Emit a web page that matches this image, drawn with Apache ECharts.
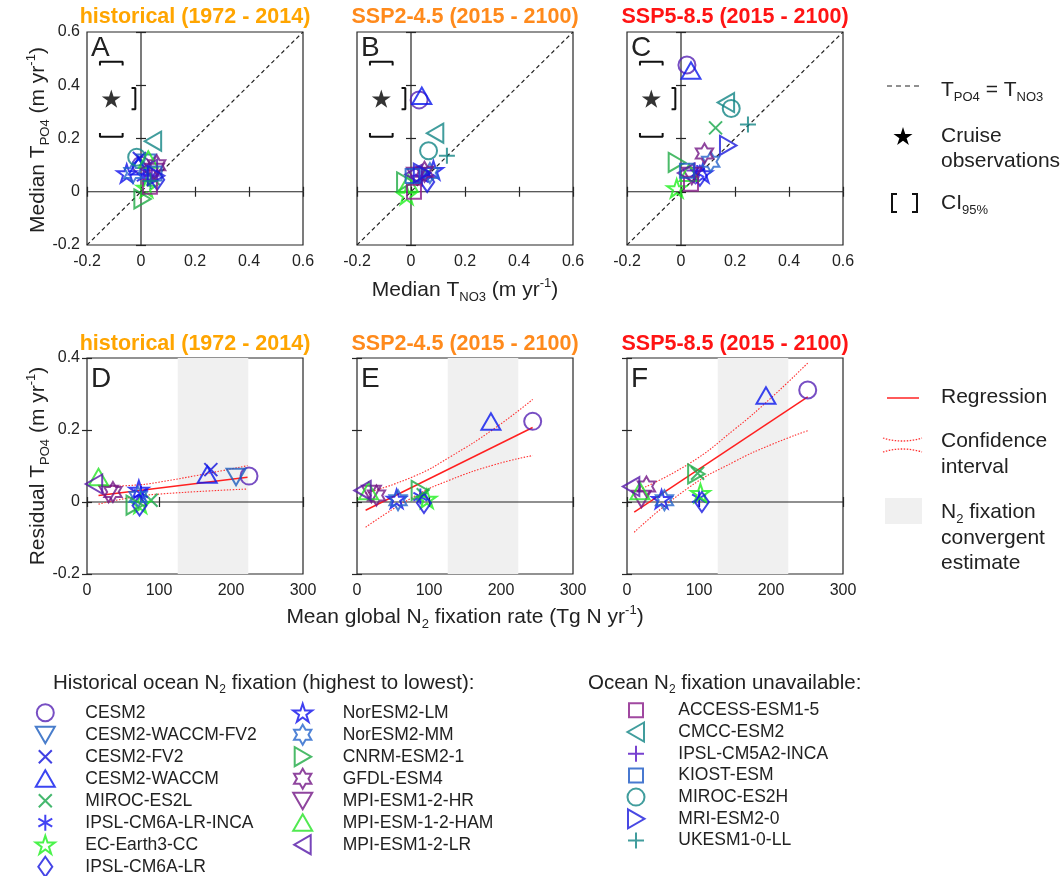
<!DOCTYPE html>
<html><head><meta charset="utf-8">
<script src="https://cdn.jsdelivr.net/npm/echarts@6/dist/echarts.min.js"></script>
<style>html,body{margin:0;padding:0;background:#fff}#c{width:1064px;height:876px}</style>
</head><body><div id="c"></div>
<script>
// ---------------- DATA ----------------
const models = ['CESM2','CESM2-WACCM-FV2','CESM2-FV2','CESM2-WACCM','MIROC-ES2L','IPSL-CM6A-LR-INCA','EC-Earth3-CC','IPSL-CM6A-LR','NorESM2-LM','NorESM2-MM','CNRM-ESM2-1','GFDL-ESM4','MPI-ESM1-2-HR','MPI-ESM-1-2-HAM','MPI-ESM1-2-LR','ACCESS-ESM1-5','CMCC-ESM2','IPSL-CM5A2-INCA','KIOST-ESM','MIROC-ES2H','MRI-ESM2-0','UKESM1-0-LL'];
const histModels = models.slice(0, 15);
const naModels = models.slice(15);

const panelTitles = ['historical (1972 - 2014)', 'SSP2-4.5 (2015 - 2100)', 'SSP5-8.5 (2015 - 2100)'];
const topTicks = [-0.2, 0, 0.2, 0.4, 0.6];
const resTicks = [-0.2, 0, 0.2, 0.4];
const fixTicks = [0, 100, 200, 300];

// Panel A: historical, median T_NO3 (x) vs median T_PO4 (y)
const aX = [0.000, 0.020, -0.006, -0.010, 0.045, 0.010, 0.020, 0.060, -0.053, -0.030, 0.005, 0.058, 0.050, 0.027, 0.030, 0.033, 0.045, 0.040, 0.050, -0.016, 0.055, 0.035];
const aY = [0.100, 0.110, 0.125, 0.095, 0.050, 0.055, 0.015, 0.045, 0.069, 0.070, -0.027, 0.100, 0.075, 0.120, 0.085, 0.019, 0.190, 0.060, 0.069, 0.130, 0.060, 0.040];
// Panel B: SSP2-4.5
const bX = [0.030, null, null, 0.040, 0.060, 0.040, -0.016, 0.060, 0.083, 0.070, -0.022, 0.050, 0.020, -0.010, 0.010, 0.011, 0.090, 0.030, 0.006, 0.065, 0.040, 0.133];
const bY = [0.345, null, null, 0.360, 0.070, 0.050, -0.012, 0.037, 0.081, 0.070, 0.037, 0.075, 0.060, 0.030, 0.065, 0.000, 0.220, 0.060, 0.059, 0.154, 0.070, 0.135];
// Panel C: SSP5-8.5
const cX = [0.022, null, null, 0.037, 0.128, 0.060, -0.016, 0.070, 0.080, 0.110, -0.016, 0.087, 0.040, 0.030, 0.020, 0.037, 0.167, 0.050, 0.022, 0.186, 0.174, 0.248];
const cY = [0.476, null, null, 0.454, 0.240, 0.070, 0.013, 0.060, 0.069, 0.113, 0.110, 0.144, 0.060, 0.070, 0.070, 0.030, 0.335, 0.080, 0.079, 0.313, 0.174, 0.253];

// Panels D-F: mean global N2 fixation (x) vs residual T_PO4 (y), models with N2 fixation
const dX = [225, 207, 172, 167, 89, 75, 74, 73, 72, 71, 66, 36, 30, 16, 10];
const dY = [0.072, 0.070, 0.090, 0.076, 0.005, 0.023, -0.005, -0.010, 0.034, 0.014, -0.009, 0.028, 0.023, 0.069, 0.050];
const eX = [244, null, null, 186, 92, 88, 97, 93, 55, 57, 87, 27, 20, 16, 8];
const eY = [0.224, null, null, 0.223, 0.020, 0.015, 0.009, -0.003, 0.009, 0.005, 0.032, 0.018, 0.023, 0.030, 0.032];
const fX = [251, null, null, 193, 98, 100, 102, 104, 48, 52, 96, 27, 20, 18, 6];
const fY = [0.311, null, null, 0.295, 0.080, 0.010, 0.025, 0.000, 0.008, 0.005, 0.078, 0.043, 0.009, 0.030, 0.043];

// Regression lines and confidence intervals
const regD = [[16, 0.018], [223, 0.069]];
const ciUpD = [[16, 0.043], [60, 0.046], [100, 0.055], [223, 0.101]];
const ciLoD = [[16, -0.006], [60, 0.012], [100, 0.022], [223, 0.036]];
const regE = [[12, -0.023], [244, 0.207]];
const ciUpE = [[12, 0.024], [80, 0.072], [129, 0.125], [190, 0.203], [244, 0.285]];
const ciLoE = [[12, -0.070], [80, 0.016], [129, 0.061], [190, 0.103], [244, 0.129]];
const regF = [[10, -0.028], [251, 0.292]];
const ciUpF = [[10, 0.028], [85, 0.105], [150, 0.203], [200, 0.289], [251, 0.386]];
const ciLoF = [[10, -0.084], [85, 0.039], [150, 0.113], [200, 0.159], [251, 0.198]];

// Cruise observations and 95% CI
const cruise = [-0.11, 0.35];
const cruiseCIx = [-0.28, -0.021];
const cruiseCIy = [0.207, 0.488];
// N2 fixation convergent estimate (Tg N / yr)
const convergent = [126, 224];

// ---------------- STYLE ----------------
const FONT = 'Liberation Sans, Arial, Helvetica, sans-serif';
const TXT = '#222222';
const STAR5_PTS = [[10,0],[12.245,6.91],[19.51,6.91],[13.63,11.18],[15.88,18.09],[10,13.82],[4.12,18.09],[6.37,11.18],[0.49,6.91],[7.755,6.91]];
const star5Path = 'M' + STAR5_PTS.map(p => p[0] + ',' + (p[1] + 1)).join('L') + 'Z';
const BOX = 'path://M0,0M20,20';
const sym = {
  circle: BOX + 'M18.5,10A8.5,8.5,0,1,1,1.5,10A8.5,8.5,0,1,1,18.5,10Z',
  tup: BOX + 'M10,1.5L19.5,18L0.5,18Z',
  tdown: BOX + 'M0.5,2L19.5,2L10,18.5Z',
  tright: BOX + 'M2,0.5L18.5,10L2,19.5Z',
  tleft: BOX + 'M18,0.5L1.5,10L18,19.5Z',
  x: BOX + 'M3.5,3.5L16.5,16.5M16.5,3.5L3.5,16.5',
  plus: BOX + 'M10,2L10,18M2,10L18,10',
  ast: BOX + 'M10,2L10,18M3.07,6L16.93,14M3.07,14L16.93,6',
  star5: BOX + star5Path,
  star6: BOX + 'M10,0L12.887,5L18.66,5L15.77,10L18.66,15L12.887,15L10,20L7.113,15L1.34,15L4.23,10L1.34,5L7.113,5Z',
  diam: BOX + 'M10,0L17,10L10,20L3,10Z',
  square: BOX + 'M3,3L17,3L17,17L3,17Z'
};
const modelStyle = [
  ['#5522B4', 'circle'], ['#1C5CBE', 'tdown'], ['#1212DC', 'x'], ['#0A16EE', 'tup'],
  ['#17A64A', 'x'], ['#1414F0', 'ast'], ['#1EF01E', 'star5'], ['#1616E0', 'diam'],
  ['#1010EC', 'star5'], ['#2464CC', 'star6'], ['#1EAA44', 'tright'], ['#731686', 'star6'],
  ['#731686', 'tdown'], ['#26E426', 'tup'], ['#5516A8', 'tleft'],
  ['#881A88', 'square'], ['#128484', 'tleft'], ['#5512C4', 'plus'], ['#1A58C4', 'square'],
  ['#128484', 'circle'], ['#1A1ADC', 'tright'], ['#128484', 'plus']
];

const topGrids = [87, 357, 627].map(l => ({left: l, top: 32, width: 216, height: 213}));
const botGrids = [87, 357, 627].map(l => ({left: l, top: 358, width: 216, height: 216}));
const grids = topGrids.concat(botGrids).map(g => Object.assign({show: true, borderColor: '#262626', borderWidth: 1.2, backgroundColor: 'transparent', containLabel: false}, g));

const xAxes = [], yAxes = [];
grids.forEach((g, i) => {
  const top = i < 3;
  const xt = top ? topTicks : fixTicks;
  const yt = top ? topTicks : resTicks;
  const common = {type: 'value', gridIndex: i, splitLine: {show: false}, axisLine: {show: false},
    axisTick: {show: true, inside: true, length: 5, lineStyle: {color: '#262626', width: 1.2}}};
  xAxes.push(Object.assign({}, common, {position: 'bottom', min: xt[0], max: xt[xt.length - 1], interval: xt[1] - xt[0],
    axisLabel: {show: true, margin: 9, fontSize: 16, fontFamily: FONT, color: TXT,
      formatter: v => { const k = xt.findIndex(t => Math.abs(t - v) < 1e-9); return k >= 0 ? String(xt[k]) : ''; }}}));
  xAxes.push(Object.assign({}, common, {position: 'top', min: xt[0], max: xt[xt.length - 1], interval: xt[1] - xt[0], axisLabel: {show: false}}));
  yAxes.push(Object.assign({}, common, {position: 'left', min: yt[0], max: yt[yt.length - 1], interval: yt[1] - yt[0],
    axisLabel: {show: i === 0 || i === 3, margin: 7, fontSize: 16, fontFamily: FONT, color: TXT,
      formatter: v => { const k = yt.findIndex(t => Math.abs(t - v) < 1e-9); return k >= 0 ? String(yt[k]) : ''; }}}));
  yAxes.push(Object.assign({}, common, {position: 'right', min: yt[0], max: yt[yt.length - 1], interval: yt[1] - yt[0], axisLabel: {show: false}}));
});

const series = [];
function lineS(g, data, color, width, type, smooth, z) {
  series.push({type: 'line', xAxisIndex: 2 * g, yAxisIndex: 2 * g, data: data, symbol: 'none', silent: true,
    smooth: !!smooth, lineStyle: {color: color, width: width, type: type || 'solid'}, z: z || 1, animation: false});
}
// Top panels: reference lines, cruise obs, brackets
for (let g = 0; g < 3; g++) {
  const lo = topTicks[0], hi = topTicks[topTicks.length - 1];
  lineS(g, [[lo, lo], [hi, hi]], '#222', 1.2, [4, 3]);
  lineS(g, [[0, lo], [0, hi]], '#222', 1.2);
  lineS(g, [[lo, 0], [hi, 0]], '#222', 1.2);
  const w = 0.042, t = 0.014, h = 0.04;
  lineS(g, [[cruise[0] - w, cruiseCIy[1] - t], [cruise[0] - w, cruiseCIy[1]], [cruise[0] + w, cruiseCIy[1]], [cruise[0] + w, cruiseCIy[1] - t]], '#111', 2);
  lineS(g, [[cruise[0] - w, cruiseCIy[0] + t], [cruise[0] - w, cruiseCIy[0]], [cruise[0] + w, cruiseCIy[0]], [cruise[0] + w, cruiseCIy[0] + t]], '#111', 2);
  lineS(g, [[cruiseCIx[1] - t, cruise[1] - h], [cruiseCIx[1], cruise[1] - h], [cruiseCIx[1], cruise[1] + h], [cruiseCIx[1] - t, cruise[1] + h]], '#111', 2);
  if (cruiseCIx[0] >= lo) {
    lineS(g, [[cruiseCIx[0] + t, cruise[1] - h], [cruiseCIx[0], cruise[1] - h], [cruiseCIx[0], cruise[1] + h], [cruiseCIx[0] + t, cruise[1] + h]], '#111', 2);
  }
  series.push({type: 'scatter', xAxisIndex: 2 * g, yAxisIndex: 2 * g, data: [cruise], symbol: sym.star5, symbolSize: 20,
    symbolKeepAspect: true, itemStyle: {color: '#000'}, silent: true, z: 3, animation: false});
}
// Bottom panels: band, zero, regression
const regs = [[regD, ciUpD, ciLoD], [regE, ciUpE, ciLoE], [regF, ciUpF, ciLoF]];
for (let k = 0; k < 3; k++) {
  const g = 3 + k;
  series.push({type: 'line', xAxisIndex: 2 * g, yAxisIndex: 2 * g, data: [], silent: true, z: 0, animation: false,
    markArea: {silent: true, itemStyle: {color: '#F0F0F0'}, data: [[{xAxis: convergent[0]}, {xAxis: convergent[1]}]]}});
  lineS(g, [[fixTicks[0], 0], [fixTicks[fixTicks.length - 1], 0]], '#222', 1.2);
  lineS(g, regs[k][0], '#FF2020', 1.5, 'solid', false, 2);
  lineS(g, regs[k][1], '#FF3030', 1.1, [1.5, 1.5], true, 2);
  lineS(g, regs[k][2], '#FF3030', 1.1, [1.5, 1.5], true, 2);
}
// Model markers
const panelData = [[aX, aY], [bX, bY], [cX, cY], [dX, dY], [eX, eY], [fX, fY]];
panelData.forEach((pd, g) => {
  pd[0].forEach((x, i) => {
    const y = pd[1][i];
    if (x === null || y === null || x === undefined) return;
    series.push({type: 'scatter', name: models[i], xAxisIndex: 2 * g, yAxisIndex: 2 * g, data: [[x, y]],
      symbol: sym[modelStyle[i][1]], symbolSize: 20, symbolKeepAspect: true,
      itemStyle: {color: 'rgba(0,0,0,0)', borderColor: modelStyle[i][0], borderWidth: 2}, z: 3, animation: false});
  });
});

// ---------------- GRAPHICS (texts) ----------------
function richDef(main, color) {
  const L = Math.round(main * 1.28), s = Math.round(main * 0.6);
  return {
    a: {fontSize: main, fontFamily: FONT, fill: color || TXT, lineHeight: L, verticalAlign: 'middle'},
    b: {fontSize: s, fontFamily: FONT, fill: color || TXT, lineHeight: s, verticalAlign: 'bottom'},
    c: {fontSize: s, fontFamily: FONT, fill: color || TXT, lineHeight: s, verticalAlign: 'top'}
  };
}
const graphics = [];
function txt(x, y, text, size, opt) {
  opt = opt || {};
  graphics.push({type: 'text', x: x, y: y, rotation: opt.rotation || 0, silent: true,
    style: {text: text, fill: opt.color || TXT, fontSize: size, fontFamily: FONT, fontWeight: opt.bold ? 'bold' : 'normal',
      align: opt.align || 'left', verticalAlign: 'middle', rich: opt.rich}});
}
const titleColors = ['#FFA500', '#FF8A1C', '#FF1414'];
topGrids.forEach((g, i) => txt(g.left + g.width / 2, 17, panelTitles[i], 21.5, {bold: true, color: titleColors[i], align: 'center'}));
botGrids.forEach((g, i) => txt(g.left + g.width / 2, 344, panelTitles[i], 21.5, {bold: true, color: titleColors[i], align: 'center'}));
['A', 'B', 'C'].forEach((l, i) => txt(topGrids[i].left + 4, 48, l, 28));
['D', 'E', 'F'].forEach((l, i) => txt(botGrids[i].left + 4, 379, l, 28));

txt(38, 140, '{a|Median T}{b|PO4}{a| (m yr}{c|-1}{a|)}', 21, {align: 'center', rotation: Math.PI / 2, rich: richDef(21)});
txt(38, 466, '{a|Residual T}{b|PO4}{a| (m yr}{c|-1}{a|)}', 21, {align: 'center', rotation: Math.PI / 2, rich: richDef(21)});
txt(465, 290, '{a|Median T}{b|NO3}{a| (m yr}{c|-1}{a|)}', 21, {align: 'center', rich: richDef(21)});
txt(465, 617, '{a|Mean global N}{b|2}{a| fixation rate (Tg N yr}{c|-1}{a|)}', 21, {align: 'center', rich: richDef(21)});

// right legends
graphics.push({type: 'line', silent: true, shape: {x1: 887, y1: 86, x2: 919, y2: 86}, style: {stroke: '#222', lineWidth: 1.2, lineDash: [5, 4]}});
txt(941, 90, '{a|T}{b|PO4}{a| = T}{b|NO3}', 21, {rich: richDef(21)});
graphics.push({type: 'polygon', silent: true, shape: {points: STAR5_PTS.map(p => [893 + p[0], 127 + p[1]])}, style: {fill: '#000'}});
txt(941, 136, 'Cruise', 21);
txt(941, 161, 'observations', 21);
graphics.push({type: 'polyline', silent: true, shape: {points: [[897, 194], [892, 194], [892, 212], [897, 212]]}, style: {stroke: '#111', lineWidth: 2, fill: null}});
graphics.push({type: 'polyline', silent: true, shape: {points: [[912, 194], [917, 194], [917, 212], [912, 212]]}, style: {stroke: '#111', lineWidth: 2, fill: null}});
txt(941, 203, '{a|CI}{b|95%}', 21, {rich: richDef(21)});

graphics.push({type: 'line', silent: true, shape: {x1: 887, y1: 398, x2: 919, y2: 398}, style: {stroke: '#FF3030', lineWidth: 1.6}});
txt(941, 397, 'Regression', 21);
graphics.push({type: 'bezierCurve', silent: true, shape: {x1: 883, y1: 438, cpx1: 895, cpy1: 442, cpx2: 910, cpy2: 442, x2: 922, y2: 438}, style: {stroke: '#FF3030', lineWidth: 1.3, lineDash: [1.5, 1.5], fill: null}});
graphics.push({type: 'bezierCurve', silent: true, shape: {x1: 883, y1: 452, cpx1: 895, cpy1: 448, cpx2: 910, cpy2: 448, x2: 922, y2: 452}, style: {stroke: '#FF3030', lineWidth: 1.3, lineDash: [1.5, 1.5], fill: null}});
txt(941, 441, 'Confidence', 21);
txt(941, 467, 'interval', 21);
graphics.push({type: 'rect', silent: true, shape: {x: 885, y: 498, width: 37, height: 26}, style: {fill: '#F0F0F0'}});
txt(941, 512, '{a|N}{b|2}{a| fixation}', 21, {rich: richDef(21)});
txt(941, 538, 'convergent', 21);
txt(941, 563, 'estimate', 21);

// bottom legend headers
txt(53, 683, '{a|Historical ocean N}{b|2}{a| fixation (highest to lowest):}', 20.5, {rich: richDef(20.5)});
txt(588, 683, '{a|Ocean N}{b|2}{a| fixation unavailable:}', 20.5, {rich: richDef(20.5)});

function legendAt(names, left, top, gap, pad) {
  return {orient: 'vertical', data: names, left: left, top: top, padding: 0, itemGap: gap,
    itemWidth: 20, itemHeight: 20, selectedMode: false, height: 190,
    textStyle: {fontSize: 17.5, fontFamily: FONT, color: TXT, lineHeight: 20, padding: [0, 0, 0, pad]}};
}
const legends = [
  legendAt(histModels.slice(0, 8), 34.3, 701.7, 0, 25),
  legendAt(histModels.slice(8), 291.7, 701.7, 0, 25),
  legendAt(naModels, 625, 699.3, -0.3, 27.3)
];

const chart = echarts.init(document.getElementById('c'), null, {renderer: 'canvas'});
chart.setOption({
  animation: false,
  backgroundColor: '#fff',
  textStyle: {fontFamily: FONT},
  grid: grids, xAxis: xAxes, yAxis: yAxes, series: series, legend: legends, graphic: graphics
});
</script></body></html>
